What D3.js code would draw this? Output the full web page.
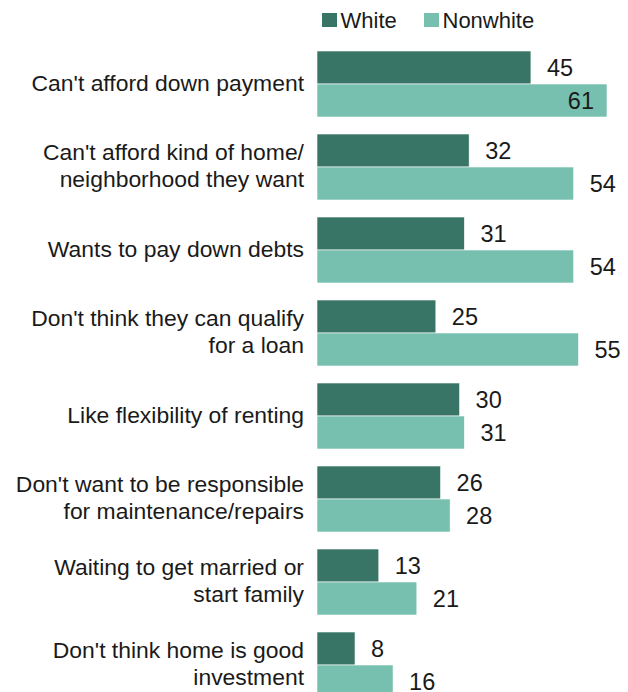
<!DOCTYPE html>
<html>
<head>
<meta charset="utf-8">
<script src="https://cdn.jsdelivr.net/npm/d3@7"></script>
<style>
  html, body { margin: 0; padding: 0; background: #fff; }
  svg { display: block; font-family: "Liberation Sans", Arial, sans-serif; }
</style>
</head>
<body>
<svg id="chart" width="628" height="692"></svg>
<script>
// Reasons for renting, by race (percent)
const categories = [
  "Can't afford down payment",
  "Can't afford kind of home/\nneighborhood they want",
  "Wants to pay down debts",
  "Don't think they can qualify\nfor a loan",
  "Like flexibility of renting",
  "Don't want to be responsible\nfor maintenance/repairs",
  "Waiting to get married or\nstart family",
  "Don't think home is good\ninvestment"
];
const seriesNames = ["White", "Nonwhite"];
const whiteValues = [45, 32, 31, 25, 30, 26, 13, 8];
const nonwhiteValues = [61, 54, 54, 55, 31, 28, 21, 16];
const colors = ["#387566", "#77bfaf"];

const W = 628, H = 692;
const svg = d3.select("#chart");

const x0 = 317;
const x = d3.scaleLinear().domain([0, 61]).range([x0, 607]);
const y = d3.scaleBand().domain(categories).range([51, 698]).paddingInner(17 / 83).paddingOuter(0);
const ySub = d3.scaleBand().domain(seriesNames).range([0, y.bandwidth()]);
const color = d3.scaleOrdinal().domain(seriesNames).range(colors);

const rows = categories.map((c, i) => ({
  cat: c,
  vals: [
    { key: "White", value: whiteValues[i] },
    { key: "Nonwhite", value: nonwhiteValues[i] }
  ]
}));

const labelSize = 22.9;
const valueSize = 23.5;

// Category labels, wrapped lines centred on each group
const labels = svg.append("g").attr("font-size", labelSize).attr("fill", "#1a1a1a");
rows.forEach(r => {
  const lines = r.cat.split("\n");
  const cy = y(r.cat) + y.bandwidth() / 2;
  const lh = 27;
  const t = labels.append("text").attr("text-anchor", "end");
  lines.forEach((ln, j) => {
    t.append("tspan")
      .attr("x", 304)
      .attr("y", cy - 1.5 + (j - (lines.length - 1) / 2) * lh)
      .attr("dy", "0.35em")
      .text(ln);
  });
});

// Bars
const groups = svg.append("g").selectAll("g").data(rows).join("g")
  .attr("transform", d => `translate(0,${y(d.cat)})`);

groups.selectAll("rect").data(d => d.vals).join("rect")
  .attr("x", x0)
  .attr("y", d => ySub(d.key))
  .attr("width", d => x(d.value) - x0)
  .attr("height", ySub.bandwidth())
  .attr("fill", d => color(d.key))
  .attr("stroke", "#ffffff")
  .attr("stroke-width", 0.6);

// Value labels: outside the bar unless there is no room
groups.selectAll("text").data(d => d.vals).join("text")
  .attr("font-size", valueSize)
  .attr("fill", "#1a1a1a")
  .attr("y", d => ySub(d.key) + ySub.bandwidth() / 2)
  .attr("dy", "0.35em")
  .text(d => d.value)
  .each(function (d) {
    const el = d3.select(this);
    const w = this.getComputedTextLength();
    const end = x(d.value);
    if (end + 16 + w > W - 4) {
      el.attr("x", end - 13).attr("text-anchor", "end");
    } else {
      el.attr("x", end + 16).attr("text-anchor", "start");
    }
  });

// Legend
const legend = svg.append("g").attr("font-size", 22).attr("fill", "#1a1a1a");
const legendX = [322, 424];
seriesNames.forEach((s, i) => {
  legend.append("rect")
    .attr("x", legendX[i]).attr("y", 13)
    .attr("width", 15).attr("height", 14)
    .attr("fill", color(s));
  legend.append("text")
    .attr("x", legendX[i] + 18.5).attr("y", 20)
    .attr("dy", "0.35em")
    .text(s);
});
</script>
</body>
</html>
